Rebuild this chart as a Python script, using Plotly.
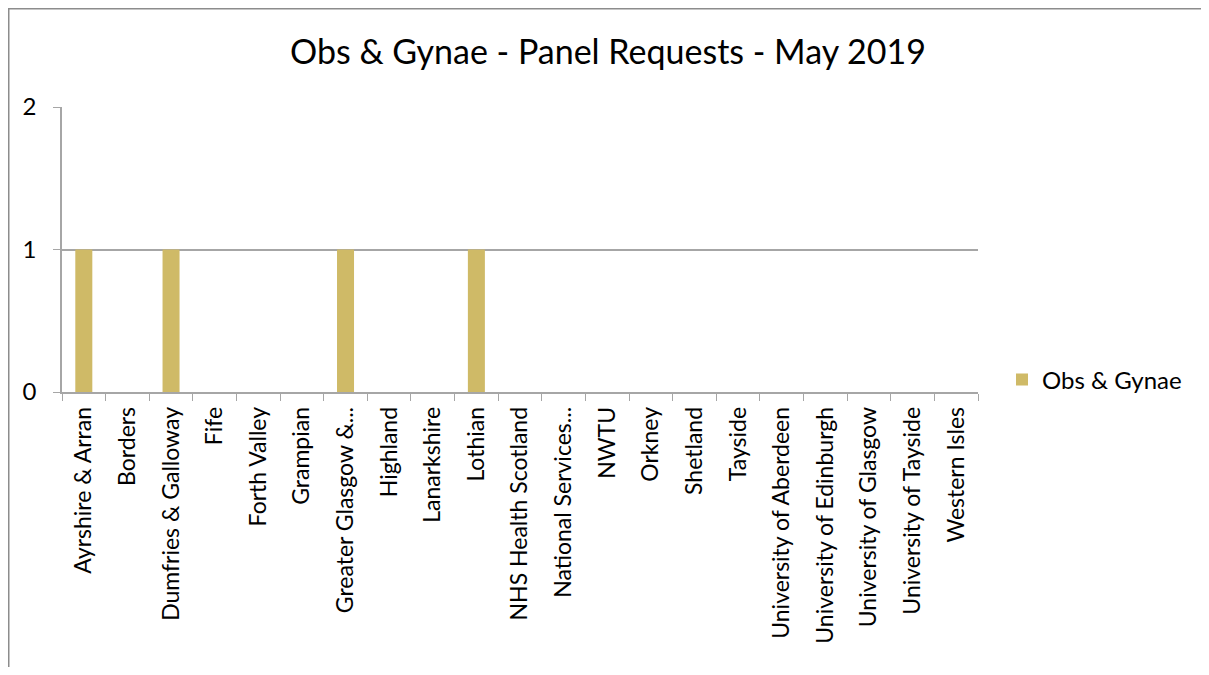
import plotly.graph_objects as go

categories = ["Ayrshire & Arran", "Borders", "Dumfries & Galloway", "Fife", "Forth Valley",
              "Grampian", "Greater Glasgow &...", "Highland", "Lanarkshire", "Lothian",
              "NHS Health Scotland", "National Services...", "NWTU", "Orkney", "Shetland",
              "Tayside", "University of Aberdeen", "University of Edinburgh",
              "University of Glasgow", "University of Tayside", "Western Isles"]
values = [1, 0, 1, 0, 0, 0, 1, 0, 0, 1, 0, 0, 0, 0, 0, 0, 0, 0, 0, 0, 0]
series_name = "Obs & Gynae"
title_text = "Obs & Gynae - Panel Requests - May 2019"

FONT = "Lato, Carlito, Calibri, sans-serif"
GRID = "#A6A6A6"
BORDER = "#8C8C8C"

fig = go.Figure()
fig.add_trace(go.Bar(x=categories, y=values, name=series_name,
                     marker=dict(color="#CFBA67", line=dict(width=0))))

# page body has an 8px margin; figure sized to fit the window without scrolling
W, H = 1193, 659
L, R, T, B = 54, 223, 99, 275
pw, ph = W - L - R, H - T - B

def px2x(px):
    return (px - L) / pw

def py2y(py):
    return (H - B - py) / ph

fig.update_layout(
    width=W, height=H,
    margin=dict(l=L, r=R, t=T, b=B),
    paper_bgcolor="white", plot_bgcolor="white",
    font=dict(family=FONT, size=23, color="black"),
    title=dict(text=title_text, x=600 / W, xanchor="center", y=1 - 44 / H, yanchor="middle",
               font=dict(size=34, family=FONT, color="black")),
    bargap=0.61,
    showlegend=True,
    legend=dict(x=px2x(994), y=py2y(372), xanchor="left", yanchor="middle",
                font=dict(size=24, family=FONT), bgcolor="rgba(0,0,0,0)"),
    xaxis=dict(type="category", showline=True, linecolor=GRID, linewidth=1.5,
               ticks="outside", tickson="boundaries", ticklen=7, tickcolor=GRID,
               tickangle=-90, tickfont=dict(size=23, family=FONT), showgrid=False,
               ticklabelstandoff=4, fixedrange=True),
    yaxis=dict(range=[0, 2], dtick=1, showline=True, linecolor=GRID, linewidth=1.5,
               ticks="outside", ticklen=7, tickcolor=GRID, showgrid=True,
               gridcolor=GRID, gridwidth=1.5, zeroline=False,
               tickfont=dict(size=24, family=FONT), ticklabelstandoff=12),
    shapes=[
        dict(type="line", xref="paper", yref="paper",
             x0=px2x(0.75), x1=px2x(0.75), y0=py2y(0.0), y1=py2y(H),
             line=dict(color=BORDER, width=1.5), layer="below"),
        dict(type="line", xref="paper", yref="paper",
             x0=px2x(0.0), x1=px2x(W), y0=py2y(0.75), y1=py2y(0.75),
             line=dict(color=BORDER, width=1.5), layer="below"),
    ],
)

fig.write_html("out.html")
